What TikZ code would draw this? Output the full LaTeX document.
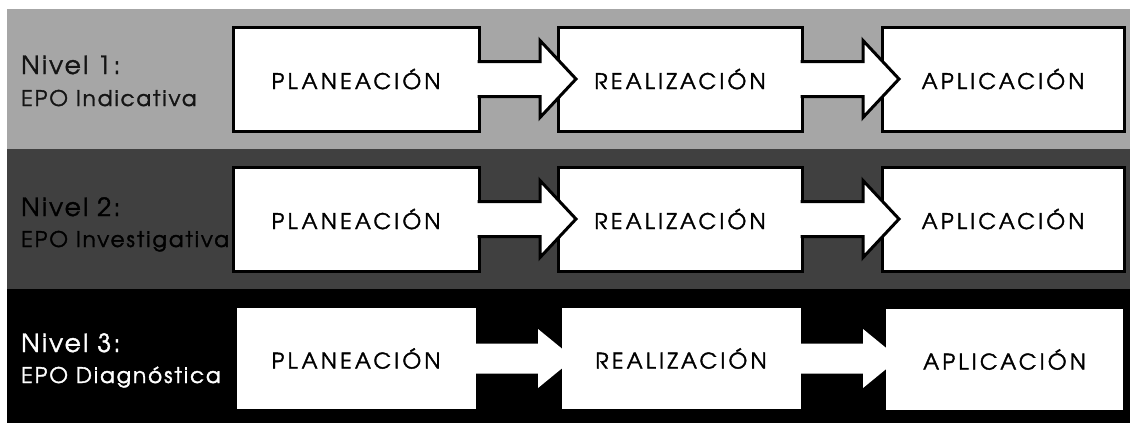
\documentclass[tikz,border=0pt]{standalone}
\usepackage{fontspec}
\usetikzlibrary{calc}
\newfontfamily\gothic{texgyreadventor-regular.otf}[LetterSpace=15.5,FakeBold=1.8]
\newfontfamily\gothicl{texgyreadventor-regular.otf}[LetterSpace=9,FakeBold=1.6]
\definecolor{bandA}{HTML}{A6A6A6}
\definecolor{bandB}{HTML}{404040}
\definecolor{bandC}{HTML}{000000}
\definecolor{inkA}{HTML}{141414}
\begin{document}
\begin{tikzpicture}[x=1pt,y=-1pt,
  stagebox/.style={draw=black,line width=3pt,fill=white,rectangle,outer sep=0pt,
    minimum height=104pt,inner sep=0pt,font=\gothic\fontsize{21.5}{24}\selectfont,text=black},
  lvl/.style={anchor=base west,inner sep=0pt,font=\gothicl\fontsize{25}{28}\selectfont},
  epo/.style={anchor=base west,inner sep=0pt,font=\gothicl\fontsize{21.5}{25}\selectfont},
  flowfill/.style={fill=white},
  flowline/.style={draw=black,line width=3pt,line join=miter}
]
\useasboundingbox (0,0) rectangle (1130,423);
% bands
\fill[bandA] (7,9) rectangle (1130,149);
\fill[bandB] (7,149) rectangle (1130,289);
\fill[bandC] (7,289) rectangle (1130,423);

% ---------- row 1 ----------
\node[lvl,text=inkA] (n1) at (21,74) {Nivel 1:};
\node[epo,text=inkA] (e1) at (21,106) {EPO Indicativa};
\node[stagebox,minimum width=242pt] (c1) at (1003,79) {APLICACIÓN};
\node[stagebox,minimum width=244pt] (b1) at (680,79) {REALIZACIÓN};
\fill[flowfill] ($(b1.east)+(-2,-17.5)$) -- ++(63,0) -- ++(0,-21) -- ++(36,38.5) -- ++(-36,38.5) -- ++(0,-21) -- ++(-63,0) -- cycle;
\draw[flowline] ($(b1.east)+(-1.5,-17.5)$) -- ++(62.5,0) -- ++(0,-21) -- ++(36,38.5) -- ++(-36,38.5) -- ++(0,-21) -- ++(-62.5,0);
\node[stagebox,minimum width=246pt] (a1) at (356,79) {PLANEACIÓN};
\fill[flowfill] ($(a1.east)+(-2,-17.5)$) -- ++(63,0) -- ++(0,-21) -- ++(36,38.5) -- ++(-36,38.5) -- ++(0,-21) -- ++(-63,0) -- cycle;
\draw[flowline] ($(a1.east)+(-1.5,-17.5)$) -- ++(62.5,0) -- ++(0,-21) -- ++(36,38.5) -- ++(-36,38.5) -- ++(0,-21) -- ++(-62.5,0);

% ---------- row 2 ----------
\node[lvl,text=black] (n2) at (21,216) {Nivel 2:};
\node[epo,text=black] (e2) at (21,247) {EPO Investigativa};
\node[stagebox,minimum width=242pt] (c2) at (1003,219) {APLICACIÓN};
\node[stagebox,minimum width=244pt] (b2) at (680,219) {REALIZACIÓN};
\fill[flowfill] ($(b2.east)+(-2,-17.5)$) -- ++(63,0) -- ++(0,-21) -- ++(36,38.5) -- ++(-36,38.5) -- ++(0,-21) -- ++(-63,0) -- cycle;
\draw[flowline] ($(b2.east)+(-1.5,-17.5)$) -- ++(62.5,0) -- ++(0,-21) -- ++(36,38.5) -- ++(-36,38.5) -- ++(0,-21) -- ++(-62.5,0);
\node[stagebox,minimum width=246pt] (a2) at (356,219) {PLANEACIÓN};
\fill[flowfill] ($(a2.east)+(-2,-17.5)$) -- ++(63,0) -- ++(0,-21) -- ++(36,38.5) -- ++(-36,38.5) -- ++(0,-21) -- ++(-63,0) -- cycle;
\draw[flowline] ($(a2.east)+(-1.5,-17.5)$) -- ++(62.5,0) -- ++(0,-21) -- ++(36,38.5) -- ++(-36,38.5) -- ++(0,-21) -- ++(-62.5,0);

% ---------- row 3 ----------
\node[lvl,text=white] (n3) at (21,352) {Nivel 3:};
\node[epo,text=white] (e3) at (21,383) {EPO Diagnóstica};
\node[stagebox,minimum width=240pt] (c3) at (1004.5,359.5) {APLICACIÓN};
\node[stagebox,minimum width=242pt] (b3) at (681,358.5) {REALIZACIÓN};
\fill[flowfill] ($(b3.east)+(-2,-15)$) -- ++(63,0) -- ++(0,-14.5) -- ++(36,29.5) -- ++(-36,29.5) -- ++(0,-14.5) -- ++(-63,0) -- cycle;
\node[stagebox,minimum width=242pt] (a3) at (356,358.5) {PLANEACIÓN};
\fill[flowfill] ($(a3.east)+(-2,-15)$) -- ++(63,0) -- ++(0,-14.5) -- ++(36,29.5) -- ++(-36,29.5) -- ++(0,-14.5) -- ++(-63,0) -- cycle;
\end{tikzpicture}
\end{document}
